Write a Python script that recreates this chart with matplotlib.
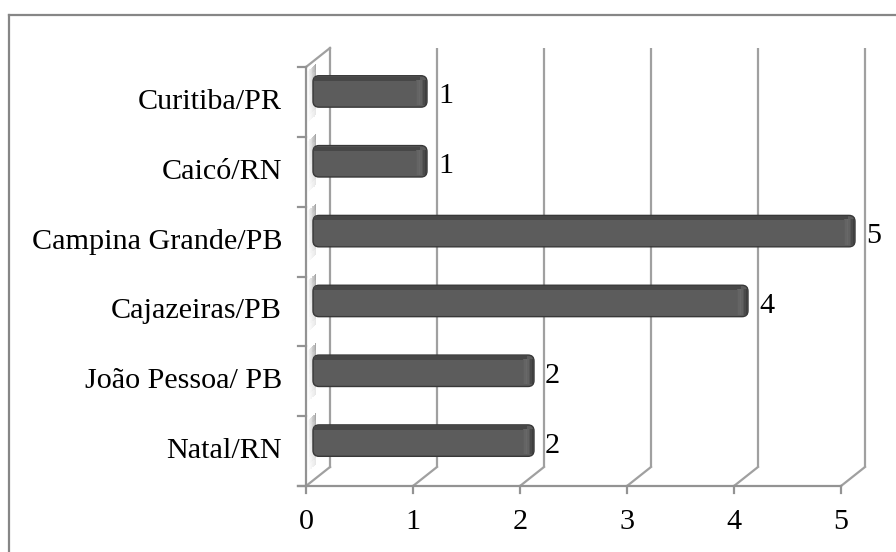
import matplotlib
matplotlib.use("Agg")
import matplotlib.pyplot as plt
from matplotlib.patches import FancyBboxPatch, Rectangle
import numpy as np

plt.rcParams['font.family'] = ['Liberation Serif', 'DejaVu Serif']

# Data
categories = ["Natal/RN", "João Pessoa/ PB", "Cajazeiras/PB",
              "Campina Grande/PB", "Caicó/RN", "Curitiba/PR"]
values = [2, 2, 4, 5, 1, 1]
x_ticks = [0, 1, 2, 3, 4, 5]

W, H = 896, 552
fig = plt.figure(figsize=(W / 100, H / 100), dpi=100)

# Plot area for the front plane (pixel geometry of the 3-D box)
x0_px, x1_px = 306, 841
yb_px, yt_px = 486, 67
ax = fig.add_axes([x0_px / W, (H - yb_px) / H, (x1_px - x0_px) / W, (yb_px - yt_px) / H])
ax.set_xlim(0, 5)
ax.set_ylim(-0.5, len(categories) - 0.5)
ax.axis("off")

ppx = (x1_px - x0_px) / 5.0
ppy = (yb_px - yt_px) / len(categories)
ddx = 24 / ppx          # depth offset (x units)
ddy = 19 / ppy          # depth offset (y units)
ymin, ymax = -0.5, len(categories) - 0.5

grid_c = "#a0a0a0"
axis_c = "#939393"
glw = 1.6
FS = 21.7

# back-wall vertical gridlines
for t in x_ticks[1:]:
    ax.plot([t + ddx, t + ddx], [ymin + ddy, ymax + ddy], color=grid_c, lw=glw,
            clip_on=False, zorder=1, solid_capstyle="butt")
# left wall
ax.plot([ddx, ddx], [ymin + ddy, ymax + ddy], color=grid_c, lw=glw, clip_on=False, zorder=1)
ax.plot([0, 0], [ymin, ymax], color=axis_c, lw=glw, clip_on=False, zorder=3)
ax.plot([0, ddx], [ymax, ymax + ddy], color=grid_c, lw=glw, clip_on=False, zorder=1)
# floor diagonals
for t in x_ticks:
    ax.plot([t, t + ddx], [ymin, ymin + ddy], color=grid_c, lw=glw, clip_on=False, zorder=1)
# front floor edge
ax.plot([-8 / ppx, 5], [ymin, ymin], color=axis_c, lw=glw, clip_on=False, zorder=3)
# tick marks
for t in x_ticks:
    ax.plot([t, t], [ymin, ymin - 7 / ppy], color=axis_c, lw=glw, clip_on=False, zorder=3)
for k in range(len(categories) + 1):
    yk = ymin + k
    ax.plot([-8 / ppx, 0], [yk, yk], color=axis_c, lw=glw, clip_on=False, zorder=3)

bar_h = 0.45
bar_dy = 0.15
x_start = 7 / ppx

# soft shading on the left wall next to each bar
for i in range(len(categories)):
    yc = i + bar_dy
    n = 12
    x_lo, x_hi = 1 / ppx, x_start + 3 / ppx
    for j in range(n):
        fx = (j + 0.5) / n
        a = 0.9 * fx ** 1.3
        xa = x_lo + (x_hi - x_lo) * j / n
        w = (x_hi - x_lo) / n
        ytop = yc + bar_h / 2 + (4 + 8 * fx) / ppy
        ybot = yc - bar_h / 2 - (16 - 8 * fx) / ppy
        m = 8
        for s in range(m):
            fy = (s + 0.5) / m
            y0 = ybot + (ytop - ybot) * s / m
            ax.add_patch(Rectangle((xa, y0), w, (ytop - ybot) / m, facecolor="#6e6e6e",
                                   edgecolor="none", alpha=min(1, a * (0.2 + 0.8 * fy) * 0.75),
                                   clip_on=False, zorder=2))

# bars with a rounded end cap
rad = 6 / ppx
asp = ppx / ppy
x_end_off = 14 / ppx
for i, v in enumerate(values):
    yc = i + bar_dy
    x_end = v + x_end_off
    body = FancyBboxPatch((x_start, yc - bar_h / 2), x_end - x_start, bar_h,
                          boxstyle=f"round,pad=0,rounding_size={rad}",
                          mutation_aspect=asp, facecolor="#5c5c5c",
                          edgecolor="#383838", lw=1.0, clip_on=False, zorder=4)
    ax.add_patch(body)
    # top face band
    ax.add_patch(Rectangle((x_start + rad * 0.2, yc + bar_h / 2 - 5 / ppy),
                           x_end - x_start - rad * 1.4, 4 / ppy,
                           facecolor="#474747", edgecolor="none", clip_on=False, zorder=5))
    # end-cap shading
    cap_cols = ["#5e5e5e", "#646464", "#686868", "#626262", "#575757", "#4a4a4a", "#3e3e3e"]
    cw = 10 / ppx / len(cap_cols)
    for k, c in enumerate(cap_cols):
        ax.add_patch(Rectangle((x_end - 11 / ppx + k * cw, yc - bar_h / 2 + 2 / ppy),
                               cw, bar_h - 6 / ppy, facecolor=c, edgecolor="none",
                               clip_on=False, zorder=5))
    # value label on the back plane
    ax.text(v + ddx + 1 / ppx, yc - 5 / ppy, str(v), fontsize=FS, ha="left", va="center",
            color="black", clip_on=False, zorder=6)

# category labels
for i, c in enumerate(categories):
    ax.text(-24 / ppx, i, c, fontsize=FS, ha="right", va="center",
            color="black", clip_on=False)

# x tick labels
for t in x_ticks:
    ax.text(t, ymin - 36 / ppy, str(t), fontsize=FS, ha="center", va="center",
            color="black", clip_on=False)

# chart border (left and top edges fall inside the canvas)
fig.add_artist(plt.Line2D([9 / W, 9 / W], [0, 1 - 14.5 / H], transform=fig.transFigure,
                          color="#868686", lw=1.6))
fig.add_artist(plt.Line2D([9 / W, 1], [1 - 14.5 / H, 1 - 14.5 / H], transform=fig.transFigure,
                          color="#868686", lw=1.6))

fig.savefig("out.png", dpi=100)
